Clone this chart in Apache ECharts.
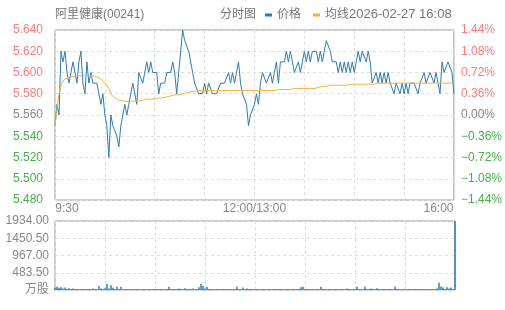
<!DOCTYPE html>
<html><head><meta charset="utf-8">
<script src="https://cdn.jsdelivr.net/npm/echarts@6/dist/echarts.min.js"></script>
<style>html,body{margin:0;padding:0;background:#fff}#c{width:505px;height:310px}</style>
</head><body><div id="c"></div>
<script>
const title = '阿里健康(00241)';
const modeLabel = '分时图';
const stampLabel = '2026-02-27 16:08';
const prevClose = 5.56;
const timeLabels = ['9:30', '12:00/13:00', '16:00'];
const price = [
5.55,5.57,5.56,5.62,5.61,5.62,5.60,5.59,5.60,5.61,
5.60,5.59,5.61,5.62,5.59,5.58,5.61,5.59,5.60,5.59,
5.59,5.59,5.58,5.57,5.58,5.56,5.55,5.52,5.56,5.55,
5.55,5.54,5.53,5.55,5.56,5.57,5.56,5.57,5.57,5.59,
5.58,5.57,5.60,5.60,5.59,5.59,5.61,5.60,5.61,5.60,
5.60,5.60,5.58,5.59,5.59,5.59,5.60,5.60,5.60,5.61,
5.60,5.58,5.60,5.62,5.64,5.63,5.63,5.62,5.62,5.60,
5.59,5.59,5.58,5.58,5.58,5.59,5.58,5.59,5.59,5.58,
5.58,5.58,5.58,5.59,5.59,5.59,5.59,5.60,5.59,5.60,
5.59,5.60,5.61,5.59,5.58,5.58,5.57,5.55,5.56,5.56,
5.57,5.58,5.57,5.59,5.60,5.60,5.59,5.59,5.60,5.59,
5.60,5.61,5.59,5.61,5.61,5.61,5.62,5.61,5.62,5.61,
5.60,5.60,5.61,5.60,5.61,5.62,5.61,5.62,5.61,5.62,
5.62,5.62,5.61,5.62,5.61,5.62,5.63,5.63,5.62,5.61,
5.61,5.61,5.60,5.61,5.60,5.61,5.60,5.61,5.60,5.61,
5.60,5.61,5.62,5.61,5.62,5.62,5.61,5.62,5.61,5.59,
5.59,5.60,5.59,5.60,5.59,5.60,5.59,5.60,5.59,5.59,
5.58,5.59,5.59,5.58,5.59,5.58,5.59,5.58,5.59,5.59,
5.59,5.59,5.58,5.59,5.59,5.60,5.59,5.59,5.60,5.60,
5.59,5.60,5.60,5.58,5.61,5.60,5.60,5.61,5.61,5.60,
5.58];
const avgPrice = [
5.550,5.565,5.580,5.588,5.592,5.594,5.595,5.595,5.596,5.596,
5.596,5.597,5.597,5.597,5.597,5.597,5.597,5.597,5.597,5.597,
5.597,5.596,5.595,5.594,5.592,5.590,5.588,5.585,5.580,5.578,
5.576,5.575,5.574,5.573,5.573,5.573,5.573,5.573,5.573,5.573,
5.573,5.573,5.573,5.573,5.574,5.574,5.575,5.575,5.575,5.575,
5.575,5.575,5.576,5.576,5.576,5.576,5.577,5.577,5.578,5.578,
5.579,5.579,5.579,5.580,5.580,5.581,5.581,5.582,5.582,5.582,
5.582,5.582,5.583,5.583,5.583,5.583,5.583,5.583,5.583,5.583,
5.583,5.583,5.583,5.583,5.583,5.583,5.583,5.583,5.583,5.583,
5.583,5.583,5.583,5.583,5.583,5.583,5.583,5.583,5.583,5.583,
5.583,5.583,5.583,5.583,5.583,5.583,5.583,5.583,5.583,5.583,
5.583,5.584,5.584,5.584,5.584,5.584,5.584,5.584,5.584,5.584,
5.585,5.585,5.585,5.585,5.585,5.585,5.585,5.585,5.585,5.585,
5.585,5.586,5.586,5.587,5.587,5.587,5.587,5.587,5.588,5.588,
5.588,5.588,5.588,5.588,5.588,5.588,5.588,5.588,5.589,5.589,
5.589,5.589,5.589,5.589,5.589,5.589,5.589,5.589,5.589,5.589,
5.589,5.590,5.590,5.590,5.590,5.590,5.590,5.590,5.590,5.590,
5.590,5.590,5.590,5.590,5.590,5.590,5.590,5.590,5.590,5.590,
5.590,5.590,5.590,5.590,5.590,5.590,5.590,5.590,5.590,5.590,
5.590,5.590,5.590,5.590,5.590,5.590,5.590,5.590,5.590,5.590,
5.590];
const volume = [
60,90,60,80,40,70,30,50,30,40,
25,30,20,25,30,20,25,30,20,40,
25,30,110,40,30,50,170,40,130,60,
30,90,30,90,25,20,30,25,20,30,
20,25,30,20,25,30,20,25,20,30,
25,20,30,25,20,30,25,90,30,25,
30,25,40,30,25,50,30,25,30,40,
30,25,80,170,110,40,90,30,25,30,
20,25,30,20,25,30,20,25,30,20,
30,90,30,25,70,30,40,25,30,20,
25,30,20,25,30,20,25,30,20,25,
30,20,25,30,20,25,30,20,25,30,
20,25,30,80,90,30,25,30,20,25,
30,25,20,90,30,25,20,30,25,20,
30,25,20,25,30,20,40,25,30,20,
25,90,30,25,20,90,30,25,40,30,
25,50,30,20,25,30,20,25,30,20,
90,30,25,20,30,25,20,30,25,20,
30,25,20,25,30,20,25,30,20,25,
30,40,200,100,70,30,80,40,70,30,
1934];
const volMax = 1934;
const volUnit = '万股';

const idx = price.map((_, i) => i);
const labelAt = { 0: timeLabels[0], 100: timeLabels[1], 200: timeLabels[2] };
const FONT = 'Liberation Sans, Arial, Noto Sans CJK SC, sans-serif';
const RED = '#ff7b7b', GREEN = '#46b04a', GRAY = '#888';
const split = { show: true, lineStyle: { color: '#ddd', type: [3, 3], width: 1 } };

const chart = echarts.init(document.getElementById('c'), null, { renderer: 'canvas' });
chart.setOption({
  animation: false,
  textStyle: { fontFamily: FONT },
  graphic: [
    { type: 'text', left: 55, top: 9, style: { text: title, font: '12px ' + FONT, fill: '#777' } },
    { type: 'text', left: 220, top: 9, style: { text: modeLabel, font: '12px ' + FONT, fill: '#777' } },
    { type: 'text', left: 349, top: 8, style: { text: stampLabel, font: '13px ' + FONT, fill: '#777' } }
  ],
  legend: {
    left: 265, top: 9, padding: 0, itemWidth: 7, itemHeight: 3, itemGap: 12, icon: 'rect',
    textStyle: { color: '#777', fontSize: 12, fontFamily: FONT },
    data: ['价格', '均线']
  },
  grid: [
    { left: 55, right: 50, top: 30, height: 170, show: true, borderColor: '#999', borderWidth: 1 },
    { left: 55, right: 50, top: 221, height: 69, show: true, borderColor: '#999', borderWidth: 1 }
  ],
  xAxis: [
    { type: 'category', gridIndex: 0, data: idx, boundaryGap: false,
      axisLine: { show: false }, axisTick: { show: false },
      splitLine: Object.assign({ interval: 24 }, split),
      axisLabel: { interval: (i) => i % 100 === 0, margin: 3, color: GRAY, fontSize: 12, fontFamily: FONT,
        formatter: (v) => {
          const i = +v;
          if (i === 0) return '{l|' + labelAt[0] + '}';
          if (i === 200) return '{r|' + labelAt[200] + '}';
          return labelAt[i] || '';
        },
        rich: { l: { padding: [0, 0, 0, 24], color: GRAY, fontSize: 12 }, r: { padding: [0, 31, 0, 0], color: GRAY, fontSize: 12 } }
      } },
    { type: 'category', gridIndex: 1, data: idx, boundaryGap: false,
      axisLine: { show: false }, axisTick: { show: false }, axisLabel: { show: false },
      splitLine: Object.assign({ interval: 24 }, split) }
  ],
  yAxis: [
    { type: 'value', gridIndex: 0, min: 5.48, max: 5.64, interval: 0.02, scale: true,
      axisLine: { show: false }, axisTick: { show: false }, splitLine: split,
      axisLabel: { margin: 12, fontSize: 12, fontFamily: FONT,
        formatter: (v) => (+v).toFixed(3),
        color: (v) => { const d = +v - prevClose; return d > 0.0001 ? RED : (d < -0.0001 ? GREEN : GRAY); } } },
    { type: 'value', gridIndex: 0, min: -1.44, max: 1.44, interval: 0.36, position: 'right',
      axisLine: { show: false }, axisTick: { show: false }, splitLine: { show: false },
      axisLabel: { margin: 7, fontSize: 12, fontFamily: FONT,
        formatter: (v) => { const n = +v; return (n < -0.0001 ? '\u2212' : '') + Math.abs(n).toFixed(2) + '%'; },
        color: (v) => { const n = +v; return n > 0.0001 ? RED : (n < -0.0001 ? GREEN : GRAY); } } },
    { type: 'value', gridIndex: 1, min: 0, max: volMax, interval: volMax / 4,
      axisLine: { show: false }, axisTick: { show: false }, splitLine: split,
      axisLabel: { margin: 6, fontSize: 12, fontFamily: FONT, color: GRAY,
        formatter: (v) => (+v === 0 ? volUnit : (+v).toFixed(2)) } }
  ],
  series: [
    { name: '价格', type: 'line', xAxisIndex: 0, yAxisIndex: 0, data: price, symbol: 'none',
      lineStyle: { width: 1, color: '#2f7bb2' }, itemStyle: { color: '#2f7bb2' } },
    { name: '均线', type: 'line', xAxisIndex: 0, yAxisIndex: 0, data: avgPrice, symbol: 'none',
      lineStyle: { width: 1, color: '#f7b030' }, itemStyle: { color: '#f7b030' } },
    { name: '成交量', type: 'bar', xAxisIndex: 1, yAxisIndex: 2, data: volume, barWidth: 1.5,
      itemStyle: { color: '#2f7bb2' } }
  ]
});
</script></body></html>
